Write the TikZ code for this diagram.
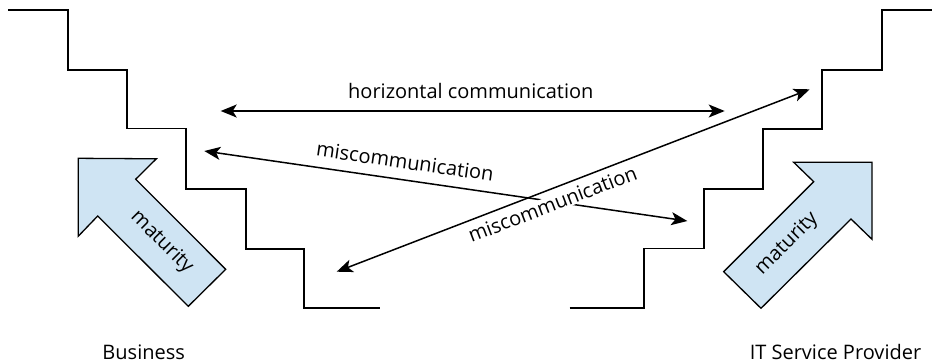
\documentclass[tikz,border=0pt]{standalone}
\usepackage{fontspec}
\setmainfont{Open Sans}
\usetikzlibrary{arrows.meta}
\definecolor{matblue}{RGB}{207,228,243}
\tikzset{
  stair/.style={draw=black, line width=1.8pt, line join=miter},
  comm/.style={draw=black, line width=1.5pt, {Stealth[length=16pt,width=13pt,inset=4pt]}-{Stealth[length=16pt,width=13pt,inset=4pt]}},
  matarrow/.style={draw=black, line width=1.3pt, fill=matblue, line join=miter},
  lbl/.style={font=\fontsize{20}{24}\selectfont, inner sep=0pt},
  wlbl/.style={lbl, fill=white, inner sep=1pt},
}
\begin{document}
\begin{tikzpicture}[x=1pt,y=-1pt]
\useasboundingbox (0,0) rectangle (932,362);
% stairs
\draw[stair] (8.3,10)--(67.7,10)--(67.7,70)--(126.7,70)--(126.7,128.5)--(185.7,128.5)--(185.7,189)--(245.7,189)--(245.7,249)--(304.3,249)--(304.3,308.3)--(380,308.3);
\draw[stair] (569.7,308.3)--(644.3,308.3)--(644.3,248.5)--(703.7,248.5)--(703.7,189)--(763,189)--(763,129)--(822.3,129)--(822.3,70)--(881.7,70)--(881.7,10.3)--(933,10.3);
% maturity arrows
\draw[matarrow] (78.3,158.3)--(156.3,158.8)--(135.7,179.2)--(225.7,269.3)--(188.3,306.3)--(97.7,216)--(78.3,236.2)--cycle;
\node[lbl, rotate=-45] (matL) at (161.7,242.5) {maturity};
\draw[matarrow] (872,162.3)--(872,239.3)--(851,219)--(761,308.3)--(723.7,271.7)--(813.7,181.7)--(793.7,162.3)--cycle;
\node[lbl, rotate=45] (matR) at (787,244) {maturity};
% communication arrows
\coordinate (hL) at (220.7,111);
\coordinate (hR) at (724.7,111);
\coordinate (m1L) at (204.3,151);
\coordinate (m1R) at (687.3,221);
\coordinate (m2L) at (336.7,271.7);
\coordinate (m2R) at (809.7,89.3);
\draw[comm] (hL) -- (hR);
\node[lbl, anchor=base] (hlab) at (470.8,98.3) {horizontal communication};
\draw[comm] (m1L) -- (m1R);
\node[lbl, rotate=-8.2] (m1lab) at (405,161.5) {miscommunication};
\node[wlbl, rotate=21.1] (m2lab) at (552.5,204) {miscommunication};
\draw[comm] (m2L) -- (m2R);
% bottom labels
\node[lbl, anchor=base] (bus) at (143.7,359) {Business};
\node[lbl, anchor=base] (itsp) at (835.5,359) {IT Service Provider};
\end{tikzpicture}
\end{document}
